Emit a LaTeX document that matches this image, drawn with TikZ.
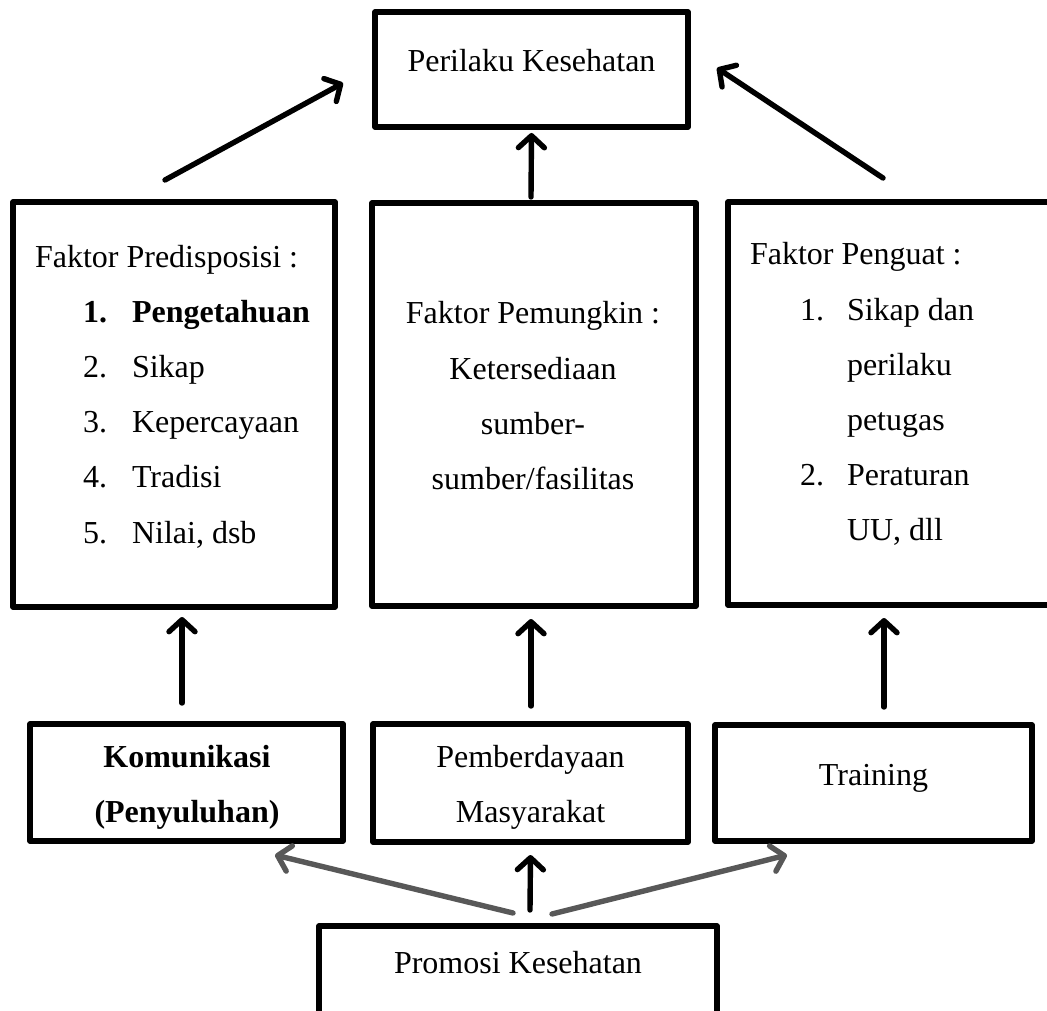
\documentclass[tikz,border=0pt]{standalone}
\usepackage{fontspec}
\setmainfont{Liberation Serif}
\usetikzlibrary{arrows.meta,calc}
\definecolor{arrgray}{RGB}{88,88,88}
\begin{document}
\begin{tikzpicture}[x=1pt,y=-1pt,
  font=\fontsize{32pt}{55pt}\selectfont,
  box/.style={draw=black,line width=5.4pt,line join=round,inner sep=0pt,outer sep=0pt,fill=none},
  txt/.style={inner sep=0pt,outer sep=0pt},
  arr/.style={line width=5.4pt,line cap=round,-{Straight Barb[length=12pt,width=26pt,line join=round,line cap=round]}},
  garr/.style={arr,draw=arrgray}]
\useasboundingbox (0,0) rectangle (1047,1011);
\clip (0,0) rectangle (1047,1011);
% boxes
\node[box,minimum width=313pt,minimum height=115pt] (top) at (531.5,69.5) {};
\node[box,minimum width=322pt,minimum height=405pt] (left) at (174,404.5) {};
\node[box,minimum width=324pt,minimum height=403pt] (mid) at (534,404.5) {};
\node[box,minimum width=334pt,minimum height=403pt] (right) at (895,403.5) {};
\node[box,minimum width=313pt,minimum height=117pt] (kom) at (186.5,782.5) {};
\node[box,minimum width=315pt,minimum height=118pt] (pem) at (530.5,783) {};
\node[box,minimum width=317pt,minimum height=116pt] (tra) at (873.5,783) {};
\node[box,minimum width=398pt,minimum height=110pt] (pro) at (518,981) {};
% texts
\node[txt,anchor=base] (ttop) at (531.5,72) {Perilaku Kesehatan};
\node[txt,anchor=base west] (l0) at (35,267) {Faktor Predisposisi :};
\node[txt,anchor=base west] (l1n) at (83,322) {\bfseries 1.};
\node[txt,anchor=base west] (l1) at (132,322) {\bfseries Pengetahuan};
\node[txt,anchor=base west] (l2n) at (83,377) {2.};
\node[txt,anchor=base west] (l2) at (132,377) {Sikap};
\node[txt,anchor=base west] (l3n) at (83,432) {3.};
\node[txt,anchor=base west] (l3) at (132,432) {Kepercayaan};
\node[txt,anchor=base west] (l4n) at (83,487) {4.};
\node[txt,anchor=base west] (l4) at (132,487) {Tradisi};
\node[txt,anchor=base west] (l5n) at (83,543) {5.};
\node[txt,anchor=base west] (l5) at (132,543) {Nilai, dsb};
\node[txt,anchor=base] (m0) at (533,323) {Faktor Pemungkin :};
\node[txt,anchor=base] (m1) at (533,379) {Ketersediaan};
\node[txt,anchor=base] (m2) at (533,434) {sumber-};
\node[txt,anchor=base] (m3) at (533,489) {sumber/fasilitas};
\node[txt,anchor=base west] (r0) at (750,265) {Faktor Penguat :};
\node[txt,anchor=base west] (r1n) at (800,320) {1.};
\node[txt,anchor=base west] (r1) at (847,320) {Sikap dan};
\node[txt,anchor=base west] (r1b) at (847,375) {perilaku};
\node[txt,anchor=base west] (r1c) at (847,430) {petugas};
\node[txt,anchor=base west] (r2n) at (800,485) {2.};
\node[txt,anchor=base west] (r2) at (847,485) {Peraturan};
\node[txt,anchor=base west] (r2b) at (847,540) {UU, dll};
\node[txt,anchor=base] (k0) at (187,767) {\bfseries Komunikasi};
\node[txt,anchor=base] (k1) at (187,822) {\bfseries (Penyuluhan)};
\node[txt,anchor=base] (p0) at (530.5,767) {Pemberdayaan};
\node[txt,anchor=base] (p1) at (530.5,822) {Masyarakat};
\node[txt,anchor=base] (tr) at (873.5,785) {Training};
\node[txt,anchor=base] (pr) at (518,973) {Promosi Kesehatan};
% connectors
\draw[arr] ([xshift=-9pt,yshift=22pt]left.north) -- ([xshift=-32pt,yshift=-13.5pt]top.west);
\draw[arr] ([xshift=-12pt,yshift=24pt]right.north) -- ([xshift=29pt,yshift=1.5pt]top.east);
\draw[arr] ([xshift=-3pt,yshift=6pt]mid.north) -- ([yshift=-6pt]top.south);
\draw[arr] ([xshift=-4.5pt,yshift=21pt]kom.north) -- ([xshift=8pt,yshift=-10pt]left.south);
\draw[arr] ([xshift=0.5pt,yshift=18pt]pem.north) -- ([xshift=-3pt,yshift=-13pt]mid.south);
\draw[arr] ([xshift=10.5pt,yshift=18pt]tra.north) -- ([xshift=-11pt,yshift=-13pt]right.south);
\draw[arr] ([xshift=12pt,yshift=16pt]pro.north) -- ([yshift=-13pt]pem.south);
\draw[garr] ([xshift=-5pt,yshift=13pt]pro.north) -- ([xshift=88.5pt,yshift=-14pt]kom.south);
\draw[garr] ([xshift=34pt,yshift=12pt]pro.north) -- ([xshift=-86.5pt,yshift=-14pt]tra.south);
\end{tikzpicture}
\end{document}
